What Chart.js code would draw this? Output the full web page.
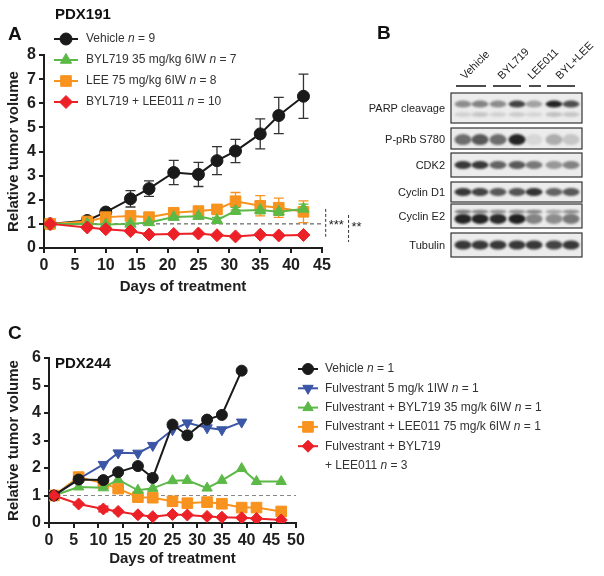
<!DOCTYPE html>
<html lang="en">
<head>
<meta charset="UTF-8">
<title>PDX191 / PDX244 tumor volume</title>
<script src="https://cdn.jsdelivr.net/npm/chart.js@4.4.0/dist/chart.umd.min.js"></script>
<style>
  body { margin: 0; background: #fff; font-family: 'Liberation Sans', Arial, sans-serif; }
  #page { position: relative; width: 604px; height: 576px; overflow: hidden; }
  canvas { position: absolute; }
  .lbl { position: absolute; font-weight: bold; color: #111; line-height: 1; white-space: nowrap; }
</style>
</head>
<body>
<div id="page">
  <canvas id="chartA" width="370" height="300" style="left:0;top:0"></canvas>
  <canvas id="blot" width="274" height="300" style="left:330px;top:0"></canvas>
  <canvas id="chartC" width="604" height="276" style="left:0;top:300px"></canvas>
  <div class="lbl" style="left:8px;top:24px;font-size:19px">A</div>
  <div class="lbl" style="left:55px;top:6px;font-size:15px">PDX191</div>
  <div class="lbl" style="left:377px;top:23px;font-size:19px">B</div>
  <div class="lbl" style="left:8px;top:323px;font-size:19px">C</div>
  <div class="lbl" style="left:55px;top:355px;font-size:15px">PDX244</div>
</div>
<script>
// ---- PDX191 (panel A) ----
const daysA = [1, 7, 10, 14, 17, 21, 25, 28, 31, 35, 38, 42];
const vehicleA = [1.0, 1.14, 1.49, 2.04, 2.46, 3.13, 3.05, 3.62, 4.02, 4.73, 5.49, 6.29];
const vehicleAErr = [0.03, 0.08, 0.08, 0.34, 0.32, 0.5, 0.5, 0.58, 0.48, 0.62, 0.75, 0.92];
const bylA = [1.0, 1.0, 0.97, 1.0, 1.06, 1.28, 1.32, 1.15, 1.54, 1.57, 1.5, 1.62];
const bylAErr = [0.02, 0.04, 0.05, 0.06, 0.08, 0.1, 0.1, 0.12, 0.15, 0.15, 0.15, 0.2];
const leeA = [1.0, 1.1, 1.28, 1.33, 1.28, 1.46, 1.53, 1.6, 1.94, 1.75, 1.67, 1.5];
const leeAErr = [0.02, 0.05, 0.08, 0.1, 0.1, 0.12, 0.15, 0.2, 0.36, 0.42, 0.4, 0.45];
const comboA = [1.0, 0.85, 0.78, 0.7, 0.56, 0.58, 0.6, 0.53, 0.48, 0.55, 0.52, 0.54];
const comboAErr = [0.02, 0.03, 0.03, 0.04, 0.03, 0.03, 0.04, 0.03, 0.03, 0.04, 0.03, 0.04];
const labelsA = ['Vehicle n = 9', 'BYL719 35 mg/kg 6IW n = 7', 'LEE 75 mg/kg 6IW n = 8', 'BYL719 + LEE011 n = 10'];

// ---- PDX244 (panel C) ----
const daysC = [1, 6, 11, 14, 18, 21, 25, 28, 32, 35, 39, 42, 47];
const vehicleC = [1.0, 1.58, 1.56, 1.85, 2.07, 1.64, 3.58, 3.19, 3.76, 3.93, 5.54];
const fulvC = [1.0, 1.6, 2.13, 2.55, 2.54, 2.82, 3.39, 3.64, 3.46, 3.39, 3.67];
const fulvBylC = [1.0, 1.31, 1.28, 1.58, 1.19, 1.26, 1.54, 1.55, 1.27, 1.55, 1.98, 1.51, 1.51];
const fulvLeeC = [1.0, 1.67, 1.44, 1.25, 0.94, 0.92, 0.79, 0.72, 0.76, 0.7, 0.56, 0.56, 0.42];
const tripleC = [1.0, 0.69, 0.51, 0.42, 0.3, 0.23, 0.31, 0.29, 0.24, 0.21, 0.19, 0.16, 0.11];
const tripleCErr = [0, 0.04, 0.1, 0.05, 0.04, 0.03, 0.04, 0.03, 0.03, 0.03, 0.03, 0.03, 0.03];
const labelsC = ['Vehicle n = 1', 'Fulvestrant 5 mg/k 1IW n = 1', 'Fulvestrant + BYL719 35 mg/k 6IW n = 1',
                 'Fulvestrant + LEE011 75 mg/k 6IW n = 1', 'Fulvestrant + BYL719\n+ LEE011 n = 3'];

// ---- western blot (panel B), band darkness per lane ----
const blotRows = ['PARP cleavage', 'P-pRb S780', 'CDK2', 'Cyclin D1', 'Cyclin E2', 'Tubulin'];
const blotGroups = ['Vehicle', 'BYL719', 'LEE011', 'BYL+LEE'];
const parpBand = [0.45, 0.5, 0.45, 0.8, 0.35, 0.95, 0.75];
const parpFaint = [0.12, 0.18, 0.12, 0.15, 0.1, 0.2, 0.18];
const prbBand = [0.6, 0.7, 0.6, 0.95, 0.1, 0.3, 0.18];
const cdk2Band = [0.85, 0.85, 0.65, 0.7, 0.55, 0.4, 0.5];
const d1Band = [0.85, 0.8, 0.7, 0.72, 0.88, 0.65, 0.7];
const e2Lower = [0.95, 0.95, 0.92, 0.97, 0.5, 0.45, 0.55];
const e2Upper = [0.55, 0.5, 0.45, 0.45, 0.5, 0.35, 0.45];
const tubBand = [0.85, 0.85, 0.85, 0.85, 0.85, 0.8, 0.85];

const INK = '#1e1e1e';
const FONT = "'Liberation Sans', Arial, Helvetica, sans-serif";
const BLACK = '#1a1a1a', GREEN = '#5cb947', ORANGE = '#f7931e', RED = '#ec2027', BLUE = '#3b56a6';

Chart.defaults.font.family = FONT;
Chart.defaults.color = INK;

function pts(days, vals) {
  return vals.map((v, i) => ({ x: days[i], y: v }));
}

function series(label, days, vals, color, style, radius, extra) {
  return Object.assign({
    label: label,
    data: pts(days, vals),
    borderColor: color,
    backgroundColor: color,
    borderWidth: 2,
    pointStyle: style,
    pointRadius: radius,
    pointBackgroundColor: color,
    pointBorderColor: color,
    pointBorderWidth: 1,
    tension: 0
  }, extra || {});
}

function axis(min, max, step, title, size, horizontal, titlePad) {
  return {
    type: 'linear', min: min, max: max,
    ticks: { stepSize: step, autoSkip: false, maxRotation: 0, font: { size: 16, weight: 'bold' }, color: INK, padding: 3 },
    grid: { drawOnChartArea: false, tickLength: 5, color: INK, lineWidth: 2 },
    border: { color: INK, width: 2 },
    title: { display: true, text: title, font: { size: 15, weight: 'bold' }, color: INK, padding: titlePad },
    afterFit(s) { if (horizontal) s.height = size; else s.width = size; }
  };
}

function drawRichText(ctx, text, x, y, size) {
  const i = text.indexOf(' n = ');
  const parts = i < 0 ? [[text, '']] : [[text.slice(0, i + 1), ''], ['n', 'italic '], [text.slice(i + 2), '']];
  parts.forEach(([t, style]) => {
    ctx.font = style + size + 'px ' + FONT;
    ctx.fillText(t, x, y);
    x += ctx.measureText(t).width;
  });
}

// legend with a short line and the marker on it
const lineLegend = {
  id: 'lineLegend',
  afterDraw(chart, args, o) {
    const ctx = chart.ctx;
    ctx.save();
    ctx.textBaseline = 'middle';
    let y = o.top;
    chart.data.datasets.forEach(ds => {
      ctx.strokeStyle = ds.borderColor;
      ctx.lineWidth = 2;
      ctx.beginPath();
      ctx.moveTo(o.x0, y);
      ctx.lineTo(o.x1, y);
      ctx.stroke();
      ctx.fillStyle = ds.borderColor;
      ctx.lineWidth = 1;
      Chart.helpers.drawPoint(ctx, {
        pointStyle: ds.pointStyle, radius: ds.pointRadius,
        rotation: ds.pointRotation || 0, borderWidth: 1
      }, (o.x0 + o.x1) / 2, y);
      ctx.fillStyle = o.color;
      const lines = ds.label.split('\n');
      lines.forEach((t, k) => drawRichText(ctx, t, o.textX, y + k * o.rowH, o.size));
      y += o.rowH * lines.length;
    });
    ctx.restore();
  }
};

const errorBars = {
  id: 'errorBars',
  beforeDatasetsDraw(chart) {
    const { ctx, scales: { x, y } } = chart;
    chart.data.datasets.forEach(ds => {
      if (!ds.errors) return;
      ctx.save();
      ctx.strokeStyle = ds.errorColor || ds.borderColor;
      ctx.lineWidth = 1.3;
      ds.data.forEach((p, i) => {
        const e = ds.errors[i];
        if (!e) return;
        const px = x.getPixelForValue(p.x);
        const t = y.getPixelForValue(p.y + e), b = y.getPixelForValue(p.y - e);
        ctx.beginPath();
        ctx.moveTo(px, t); ctx.lineTo(px, b);
        ctx.moveTo(px - 5, t); ctx.lineTo(px + 5, t);
        ctx.moveTo(px - 5, b); ctx.lineTo(px + 5, b);
        ctx.stroke();
      });
      ctx.restore();
    });
  }
};

const refLine = {
  id: 'refLine',
  beforeDatasetsDraw(chart, args, o) {
    const { ctx, scales: { x, y } } = chart;
    const py = y.getPixelForValue(o.value);
    ctx.save();
    ctx.strokeStyle = o.color;
    ctx.lineWidth = 1;
    ctx.setLineDash([4, 3]);
    ctx.beginPath();
    ctx.moveTo(x.getPixelForValue(o.from), py);
    ctx.lineTo(x.getPixelForValue(o.to), py);
    ctx.stroke();
    ctx.restore();
  }
};

// significance brackets to the right of the plot
const sigMarks = {
  id: 'sigMarks',
  afterDraw(chart, args, o) {
    if (!o.marks) return;
    const { ctx, scales: { x, y } } = chart;
    ctx.save();
    o.marks.forEach(m => {
      const px = x.getPixelForValue(m.day);
      ctx.strokeStyle = '#333';
      ctx.lineWidth = 1;
      ctx.setLineDash([3, 2]);
      ctx.beginPath();
      ctx.moveTo(px, y.getPixelForValue(m.high));
      ctx.lineTo(px, y.getPixelForValue(m.low));
      ctx.stroke();
      ctx.fillStyle = '#222';
      ctx.font = '13px ' + FONT;
      ctx.textBaseline = 'middle';
      ctx.fillText(m.text, px + 3, y.getPixelForValue(m.textAt));
    });
    ctx.restore();
  }
};

new Chart(document.getElementById('chartA'), {
  type: 'line',
  data: {
    datasets: [
      series(labelsA[0], daysA, vehicleA, BLACK, 'circle', 6, { errors: vehicleAErr, errorColor: '#333', order: 4 }),
      series(labelsA[1], daysA, bylA, GREEN, 'triangle', 6.5, { errors: bylAErr, order: 2 }),
      series(labelsA[2], daysA, leeA, ORANGE, 'rect', 7.5, { errors: leeAErr, order: 3 }),
      series(labelsA[3], daysA, comboA, RED, 'rectRot', 6.5, { errors: comboAErr, order: 1 })
    ]
  },
  options: {
    responsive: false,
    animation: false,
    layout: { padding: { left: 0, top: 55, right: 48, bottom: 2 } },
    plugins: {
      legend: { display: false },
      tooltip: { enabled: false },
      lineLegend: { x0: 54, x1: 78, textX: 86, top: 39, rowH: 21, size: 12, color: '#333' },
      refLine: { value: 1, from: 0, to: 45, color: '#444' },
      sigMarks: { marks: [
        { day: 45.6, high: 1.62, low: 0.47, text: '***', textAt: 0.92 },
        { day: 49.3, high: 1.37, low: 0.25, text: '**', textAt: 0.86 }
      ] }
    },
    scales: {
      x: axis(0, 45, 5, 'Days of treatment', 50, true, { top: 0, bottom: 2 }),
      y: axis(0, 8, 1, 'Relative tumor volume', 44, false, { top: 5, bottom: 0 })
    }
  },
  plugins: [refLine, errorBars, lineLegend, sigMarks]
});

new Chart(document.getElementById('chartC'), {
  type: 'line',
  data: {
    datasets: [
      series(labelsC[0], daysC, vehicleC, BLACK, 'circle', 5.5, { order: 2 }),
      series(labelsC[1], daysC, fulvC, BLUE, 'triangle', 6, { pointRotation: 180, order: 3 }),
      series(labelsC[2], daysC, fulvBylC, GREEN, 'triangle', 6, { order: 4 }),
      series(labelsC[3], daysC, fulvLeeC, ORANGE, 'rect', 7.5, { order: 5 }),
      series(labelsC[4], daysC, tripleC, RED, 'rectRot', 6, { errors: tripleCErr, order: 1 })
    ]
  },
  options: {
    responsive: false,
    animation: false,
    layout: { padding: { left: 0, top: 58, right: 308, bottom: 3 } },
    plugins: {
      legend: { display: false },
      tooltip: { enabled: false },
      lineLegend: { x0: 298, x1: 318, textX: 325, top: 69, rowH: 19.3, size: 12, color: '#333' },
      refLine: { value: 1, from: 0, to: 50, color: '#888' }
    },
    scales: {
      x: axis(0, 50, 5, 'Days of treatment', 50, true, { top: 0, bottom: 5 }),
      y: axis(0, 6, 1, 'Relative tumor volume', 49, false, { top: 5, bottom: 0 })
    }
  },
  plugins: [refLine, errorBars, lineLegend]
});

// panel B: simple sketch of the western blot
(function drawBlot() {
  const ctx = document.getElementById('blot').getContext('2d');
  const lanes = [133, 150, 168, 187, 204, 224, 241];
  const boxes = [[93, 123], [128, 149], [153, 177], [182, 202], [204, 228], [233, 257]];
  const bands = [
    [{ at: 0.37, h: 7, lv: parpBand }, { at: 0.72, h: 5, lv: parpFaint }],
    [{ at: 0.55, h: 11, lv: prbBand }],
    [{ at: 0.5, h: 8, lv: cdk2Band }],
    [{ at: 0.5, h: 8, lv: d1Band }],
    [{ at: 0.62, h: 10, lv: e2Lower }, { at: 0.32, h: 4, lv: e2Upper }],
    [{ at: 0.5, h: 9, lv: tubBand }]
  ];
  const x0 = 121, x1 = 252;

  ctx.font = '11px ' + FONT;
  ctx.fillStyle = '#222';
  ctx.textAlign = 'right';
  ctx.textBaseline = 'middle';
  boxes.forEach(([t, b], r) => {
    ctx.fillStyle = '#222';
    ctx.fillText(blotRows[r], 115, (t + b) / 2 + 1);
    ctx.save();
    ctx.beginPath();
    ctx.rect(x0, t, x1 - x0, b - t);
    ctx.clip();
    ctx.fillStyle = '#ececec';
    ctx.fillRect(x0, t, x1 - x0, b - t);
    ctx.filter = 'blur(1.3px)';
    bands[r].forEach(bd => {
      lanes.forEach((lx, i) => {
        ctx.fillStyle = 'rgba(25,25,25,' + bd.lv[i] + ')';
        ctx.beginPath();
        ctx.ellipse(lx, t + bd.at * (b - t), 8.5, bd.h / 2, 0, 0, Math.PI * 2);
        ctx.fill();
      });
    });
    ctx.restore();
    ctx.strokeStyle = '#333';
    ctx.lineWidth = 1.2;
    ctx.strokeRect(x0, t, x1 - x0, b - t);
  });

  const lines = [[126, 156], [163, 191], [199, 211], [217, 245]];
  const anchors = [135, 172, 202, 230];
  ctx.strokeStyle = '#111';
  ctx.lineWidth = 1.5;
  lines.forEach(([a, b]) => {
    ctx.beginPath();
    ctx.moveTo(a, 86);
    ctx.lineTo(b, 86);
    ctx.stroke();
  });
  ctx.textAlign = 'left';
  ctx.textBaseline = 'alphabetic';
  ctx.fillStyle = '#222';
  blotGroups.forEach((g, i) => {
    ctx.save();
    ctx.translate(anchors[i], 80);
    ctx.rotate(-Math.PI / 4);
    ctx.fillText(g, 0, 0);
    ctx.restore();
  });
})();
</script>
</body>
</html>
